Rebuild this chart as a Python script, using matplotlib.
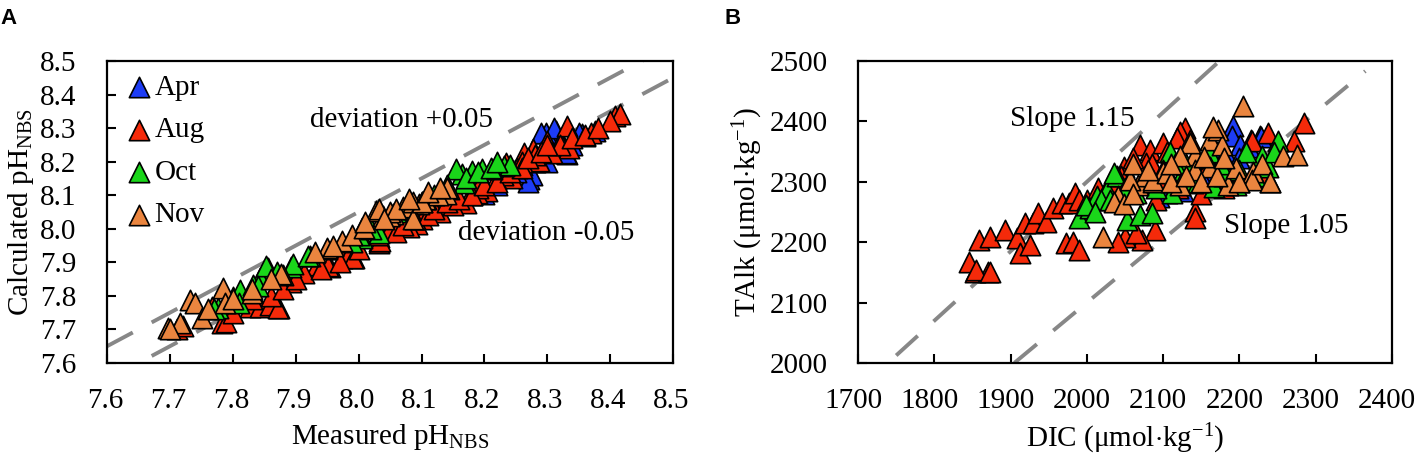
import numpy as np
import matplotlib
matplotlib.use('Agg')
import matplotlib.pyplot as plt
from matplotlib.transforms import ScaledTranslation

plt.rcParams['font.family'] = ['Liberation Serif', 'DejaVu Serif']
plt.rcParams['mathtext.fontset'] = 'custom'
plt.rcParams['mathtext.rm'] = 'Liberation Serif'
plt.rcParams['mathtext.it'] = 'Liberation Serif:italic'

months = ['Apr', 'Aug', 'Oct', 'Nov']
colors = {'Apr': '#1d3cf5', 'Aug': '#f52a0a', 'Oct': '#1ad61a', 'Nov': '#ea853f'}

# panel A: measured vs calculated pH (NBS)
ph_meas = {
    'Apr': [8.313, 8.298, 8.355, 8.331, 8.271, 8.275, 8.29, 8.31, 8.35, 8.375,
            8.33, 8.30, 8.18, 8.20, 8.27, 8.36, 8.32, 8.24, 8.25, 8.28, 8.22,
            8.34, 8.26],
    'Aug': [8.408, 8.416, 8.400, 8.331, 8.299, 8.369, 8.334, 8.307, 8.263, 8.278,
            8.286, 8.252, 8.234, 8.244, 8.204, 8.218, 8.188, 8.171, 8.112, 8.092,
            8.080, 8.033, 8.033, 7.782, 7.767, 7.827, 7.843, 7.859, 7.874, 7.890,
            7.933, 7.954, 7.973, 7.985, 7.993, 8.033, 7.711, 7.789, 7.871, 7.892,
            7.913, 7.952, 7.991, 8.034, 7.72, 7.80, 8.05, 8.06, 8.10, 8.13,
            8.15, 8.19, 8.23, 8.26, 8.28, 8.32, 7.83, 7.86, 7.88, 7.90, 7.94,
            7.97, 8.00, 8.03, 8.07, 8.09, 8.11, 8.12, 8.14, 8.16, 8.18, 8.20,
            8.22, 8.24, 8.26, 8.27, 8.29, 8.30, 8.34, 8.36, 8.38],
    'Oct': [8.231, 8.212, 8.196, 8.180, 8.164, 8.155, 8.168, 8.006, 7.776, 7.800,
            7.811, 7.856, 7.859, 7.843, 7.832, 7.893, 7.922, 8.033, 7.853, 7.896,
            7.920, 7.770, 7.95, 8.00, 8.05, 8.12, 8.14, 8.24, 7.81, 7.84, 7.87,
            7.99, 8.02, 8.06, 8.08, 8.10, 8.17, 8.19, 8.21, 8.22],
    'Nov': [8.144, 8.139, 8.107, 8.096, 8.080, 8.054, 8.038, 8.028, 8.006, 7.697,
            7.716, 7.732, 7.740, 7.751, 7.784, 7.787, 7.830, 7.880, 7.950, 7.973,
            7.990, 8.009, 8.033, 8.049, 7.700, 7.876, 8.050, 8.070, 8.087, 8.105,
            8.126, 8.140, 8.087, 8.060, 8.100, 7.76, 7.80, 7.83, 7.86, 7.93,
            7.96, 8.01, 8.04, 8.08, 8.11, 8.13],
}
ph_calc = {
    'Apr': [8.291, 8.285, 8.282, 8.223, 8.149, 8.160, 8.285, 8.300, 8.285, 8.290,
            8.225, 8.200, 8.100, 8.105, 8.140, 8.275, 8.260, 8.170, 8.17, 8.20,
            8.13, 8.25, 8.19],
    'Aug': [8.336, 8.342, 8.321, 8.306, 8.262, 8.285, 8.241, 8.226, 8.226, 8.238,
            8.202, 8.182, 8.196, 8.152, 8.113, 8.149, 8.107, 8.078, 8.054, 8.015,
            8.004, 7.974, 7.959, 7.719, 7.766, 7.766, 7.766, 7.772, 7.763, 7.861,
            7.891, 7.885, 7.912, 7.926, 7.912, 7.965, 7.701, 7.721, 7.765, 7.840,
            7.869, 7.889, 7.914, 7.963, 7.71, 7.75, 8.00, 7.99, 8.03, 8.05,
            8.07, 8.12, 8.16, 8.20, 8.22, 8.25, 7.79, 7.80, 7.82, 7.85, 7.88,
            7.90, 7.94, 7.98, 8.01, 8.03, 8.04, 8.06, 8.08, 8.09, 8.10, 8.13,
            8.14, 8.17, 8.18, 8.21, 8.23, 8.25, 8.27, 8.28, 8.30],
    'Oct': [8.187, 8.179, 8.179, 8.173, 8.164, 8.179, 8.137, 7.971, 7.763, 7.796,
            7.817, 7.882, 7.861, 7.852, 7.831, 7.885, 7.920, 7.986, 7.889, 7.894,
            7.919, 7.760, 7.94, 7.98, 8.04, 8.10, 8.13, 8.19, 7.78, 7.83, 7.87,
            7.96, 8.00, 8.05, 8.06, 8.08, 8.15, 8.17, 8.18, 8.20],
    'Nov': [8.119, 8.104, 8.090, 8.075, 8.063, 8.045, 8.039, 8.054, 8.001, 7.704,
            7.719, 7.787, 7.778, 7.733, 7.822, 7.778, 7.808, 7.861, 7.944, 7.965,
            7.980, 8.001, 8.060, 8.039, 7.700, 7.865, 8.050, 8.065, 8.080, 8.090,
            8.100, 8.122, 8.030, 8.060, 8.080, 7.76, 7.79, 7.82, 7.85, 7.93,
            7.95, 8.02, 8.03, 8.09, 8.11, 8.12],
}

# panel B: DIC vs TAlk (umol/kg)
dic = {
    'Apr': [2192, 2190, 2201, 2227, 2183, 2109, 2126, 2177, 2105, 2213, 2228, 2160,
            2140, 2095, 2150, 2170, 2200, 2215],
    'Aug': [1853, 1871, 1845, 1858, 1873, 1893, 1908, 1912, 1925, 1919, 1930, 1936,
            1947, 1956, 1967, 1976, 1984, 1973, 1982, 1989, 2070, 2083, 2078, 2048,
            2129, 2122, 2142, 2142, 2089, 2072, 2050, 2041, 2065, 2238, 2216, 2284,
            2271, 2118, 2100, 1855, 1873, 1990, 2060, 2095, 2230, 2180, 2150, 2110,
            2000, 2015, 2030, 2045, 2085, 2105, 2135, 2160, 2200, 2240, 2090, 2120],
    'Oct': [1989, 2004, 2013, 2026, 2039, 2052, 2070, 2085, 2111, 2109, 2122, 2139,
            2166, 2196, 2229, 2238, 2251, 2153, 2209, 2019, 2065, 2035, 2050, 2100,
            2130, 2180, 1999, 2075, 2090, 2115, 2145, 2175, 2200, 2220, 2245, 2010,
            2030, 2160],
    'Nov': [2205, 2021, 2041, 2035, 2067, 2087, 2100, 2076, 2122, 2142, 2142, 2161,
            2172, 2177, 2161, 2185, 2196, 2218, 2216, 2257, 2275, 2135, 2122, 2057,
            2048, 2087, 2105, 2153, 2060, 2080, 2110, 2130, 2150, 2170, 2180, 2200,
            2230, 2240, 2165, 2110, 2060],
}
talk = {
    'Apr': [2392, 2375, 2361, 2375, 2342, 2287, 2284, 2338, 2281, 2358, 2374, 2320,
            2300, 2275, 2310, 2350, 2340, 2370],
    'Aug': [2151, 2151, 2168, 2204, 2209, 2220, 2207, 2182, 2196, 2231, 2231, 2248,
            2234, 2256, 2265, 2265, 2281, 2198, 2201, 2187, 2361, 2353, 2331, 2325,
            2389, 2383, 2251, 2240, 2220, 2204, 2209, 2201, 2215, 2381, 2367, 2397,
            2367, 2372, 2364, 2154, 2151, 2270, 2340, 2300, 2310, 2290, 2280, 2340,
            2270, 2290, 2300, 2310, 2330, 2350, 2370, 2330, 2300, 2300, 2270, 2290],
    'Oct': [2240, 2256, 2276, 2287, 2309, 2237, 2245, 2248, 2281, 2350, 2306, 2298,
            2292, 2295, 2342, 2325, 2367, 2339, 2350, 2270, 2281, 2314, 2290, 2320,
            2330, 2310, 2262, 2300, 2290, 2330, 2300, 2330, 2320, 2310, 2350, 2250,
            2270, 2350],
    'Nov': [2425, 2209, 2276, 2267, 2295, 2300, 2317, 2309, 2295, 2345, 2320, 2370,
            2386, 2361, 2325, 2295, 2323, 2317, 2303, 2342, 2345, 2364, 2342, 2303,
            2264, 2303, 2314, 2341, 2330, 2320, 2300, 2310, 2300, 2310, 2340, 2300,
            2330, 2300, 2390, 2330, 2280],
}

deviation = 0.05
slopes = [1.15, 1.05]
slope_dic_range = {1.15: [1750, 2180], 1.05: [1905, 2365]}

fig = plt.figure(figsize=(14.18, 4.62), dpi=100)
axA = fig.add_axes([0.0755, 0.2143, 0.3992, 0.6537])
axB = fig.add_axes([0.6051, 0.2143, 0.3766, 0.6537])

ms = 215
dash_kw = dict(color='#878787', lw=2.8, dashes=(7.5, 5.5), zorder=1)

# --- A ---
xs = np.array([7.6, 8.5])
axA.plot(xs, xs + deviation, **dash_kw)
axA.plot(xs, xs - deviation, **dash_kw)
for m in months:
    axA.scatter(ph_meas[m], ph_calc[m], marker='^', s=ms, c=colors[m],
                edgecolors='black', linewidths=1.2, label=m, zorder=3)

axA.set_xlim(7.6, 8.5)
axA.set_ylim(7.6, 8.5)
axA.set_xticks(np.arange(7.6, 8.51, 0.1))
axA.set_yticks(np.arange(7.6, 8.51, 0.1))
axA.xaxis.set_major_formatter(matplotlib.ticker.FormatStrFormatter('%.1f'))
axA.yaxis.set_major_formatter(matplotlib.ticker.FormatStrFormatter('%.1f'))
axA.set_xlabel(r'Measured pH$_{\mathrm{NBS}}$', fontsize=21, labelpad=6)
axA.set_ylabel(r'Calculated pH$_{\mathrm{NBS}}$', fontsize=21, labelpad=3)
axA.text(7.922, 8.325, 'deviation +0.05', fontsize=21, va='center', ha='left')
axA.text(8.158, 7.988, 'deviation -0.05', fontsize=21, va='center', ha='left')
axA.legend(loc='upper left', bbox_to_anchor=(0.035, 0.955), frameon=False,
           fontsize=21, labelspacing=0.55, handlelength=0.8, handletextpad=0.15,
           borderaxespad=0, borderpad=0, scatterpoints=1)

# --- B ---
for k in slopes:
    d = np.array(slope_dic_range[k])
    axB.plot(d, k * d, **dash_kw)
for m in months:
    axB.scatter(dic[m], talk[m], marker='^', s=ms, c=colors[m],
                edgecolors='black', linewidths=1.2, zorder=3)

axB.set_xlim(1700, 2400)
axB.set_ylim(2000, 2500)
axB.set_xticks(np.arange(1700, 2401, 100))
axB.set_yticks(np.arange(2000, 2501, 100))
axB.set_xlabel(r'DIC ($\mathrm{\mu}$mol$\cdot$kg$^{\mathrm{-1}}$)', fontsize=21, labelpad=6)
axB.set_ylabel(r'TAlk ($\mathrm{\mu}$mol$\cdot$kg$^{\mathrm{-1}}$)', fontsize=21, labelpad=3)
axB.text(1899, 2404, 'Slope 1.15', fontsize=21, va='center', ha='left')
axB.text(2180, 2226, 'Slope 1.05', fontsize=21, va='center', ha='left')

for ax, shift in ((axA, -2), (axB, -5)):
    for s in ax.spines.values():
        s.set_linewidth(1.6)
    ax.tick_params(direction='in', length=6.5, width=1.5, labelsize=21,
                   top=False, right=False)
    ax.tick_params(axis='y', pad=22)
    ax.tick_params(axis='x', pad=18)
    offset = ScaledTranslation(shift / 100, 0, fig.dpi_scale_trans)
    for lbl in ax.get_xticklabels():
        lbl.set_transform(lbl.get_transform() + offset)

fig.text(0.0, 1 - 24 / 462, 'A', fontsize=16, fontweight='bold',
         family='Liberation Sans', va='baseline', ha='left')
fig.text(0.511, 1 - 24 / 462, 'B', fontsize=16, fontweight='bold',
         family='Liberation Sans', va='baseline', ha='left')

fig.savefig('out.png', dpi=100)
